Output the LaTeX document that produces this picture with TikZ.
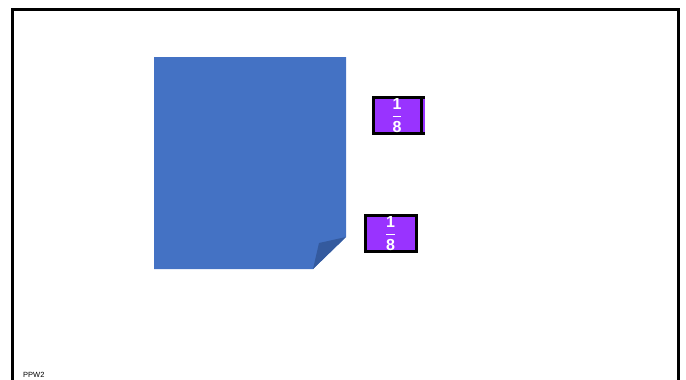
\documentclass[tikz,border=0pt]{standalone}
\usepackage{amsmath}
\usepackage{fontspec}
\setmainfont{Liberation Sans}
\usepackage{xcolor}
\definecolor{SheetBlue}{RGB}{68,114,196}
\definecolor{FoldBlue}{RGB}{52,90,158}
\definecolor{FracPurple}{RGB}{153,51,255}

\tikzset{
  fracbox/.style={draw=black, line width=3pt, fill=FracPurple,
    minimum height=36pt, inner sep=0pt},
  fractext/.style={text=white, inner sep=0pt, font=\bfseries\fontsize{16}{16}\selectfont}
}
\newcommand{\oneeighth}{$\genfrac{}{}{1.2pt}{0}{\text{1}}{\text{8}}$}

\begin{document}
\begin{tikzpicture}[x=1pt, y=-1pt]
  \useasboundingbox (0,0) rectangle (686,380);
  % slide frame, open at the bottom
  \draw[line width=3pt] (12.5,381) -- (12.5,9) -- (678.5,9) -- (678.5,381);

  % folded sheet
  \fill[SheetBlue] (154,57) -- (346,57) -- (346,237) -- (313,269) -- (154,269) -- cycle;
  \fill[FoldBlue] (313,269) -- (319,243) -- (346,237) -- cycle;

  % fraction tiles
  \node[fracbox, minimum width=50pt] (tileA) at (398.5,115.5) {};
  \fill[FracPurple] ([xshift=-2.5pt,yshift=-3pt]tileA.north east) rectangle ([yshift=3pt]tileA.south east);
  \draw[line width=2.5pt] ([xshift=-3.5pt]tileA.north east) -- ([xshift=-3.5pt]tileA.south east);
  \node[fractext] (fracA) at (397,115.5) {\oneeighth};

  \node[fracbox, minimum width=51pt] (tileB) at (391,233.5) {};
  \node[fractext] (fracB) at (390.5,233.5) {\oneeighth};

  \node[anchor=base west, inner sep=0pt, font=\fontsize{7.5}{7.5}\selectfont] (label) at (23,377) {PPW2};
\end{tikzpicture}
\end{document}
